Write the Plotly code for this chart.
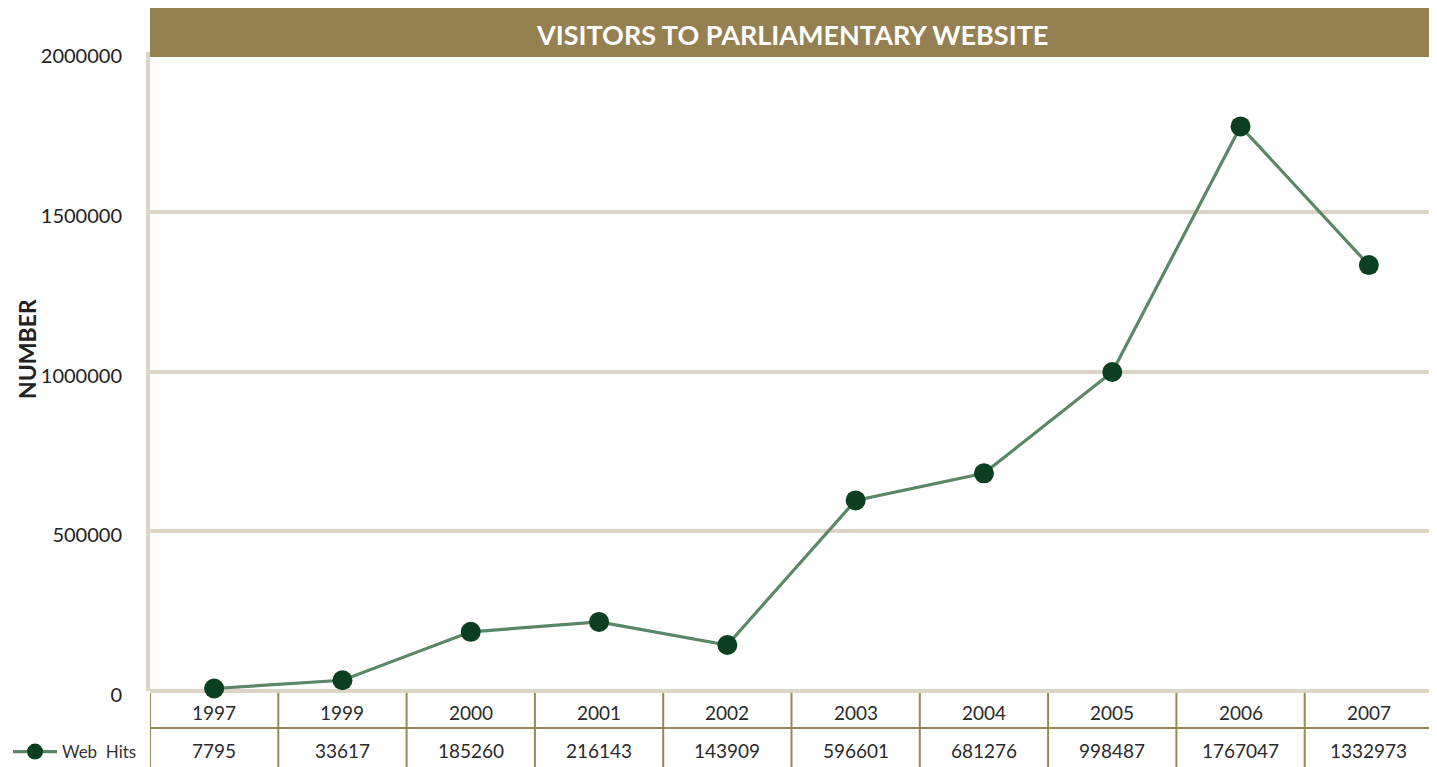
import plotly.graph_objects as go

years = ["1997", "1999", "2000", "2001", "2002", "2003", "2004", "2005", "2006", "2007"]
web_hits = [7795, 33617, 185260, 216143, 143909, 596601, 681276, 998487, 1767047, 1332973]
y_ticks = [0, 500000, 1000000, 1500000, 2000000]
title_text = "VISITORS TO PARLIAMENTARY WEBSITE"
series_name = "Web  Hits"
y_title = "NUMBER"

W, H = 1437, 767
OFF = 8  # page body margin offset
ML = 150 - OFF
MT = 52 - OFF
MB = H - (691 - OFF)
MR = W - (1433 - OFF)
PH = H - MT - MB
PW = W - ML - MR

def py(pix):
    return 1 - (pix - OFF - MT) / PH

def px(pix):
    return (pix - OFF - ML) / PW

GRID = "#ddd5c5"
GOLD = "#9a8756"
BAND = "#948050"
FONT = "Lato"

fig = go.Figure()
fig.add_trace(go.Scatter(
    x=list(range(len(years))), y=web_hits, name=series_name,
    mode="lines+markers",
    line=dict(color="#5a8866", width=3.2),
    marker=dict(color="#0a4020", size=20, symbol="circle"),
    cliponaxis=False, showlegend=True,
))

shapes = []
shapes.append(dict(type="rect", xref="paper", yref="paper", x0=0, x1=1,
                   y0=py(57), y1=py(3), fillcolor=BAND, line=dict(width=0), layer="above"))
for i in range(len(years) + 1):
    shapes.append(dict(type="line", xref="x", yref="paper", x0=i - 0.5, x1=i - 0.5,
                       y0=py(693), y1=py(770), line=dict(color=GOLD, width=2)))
shapes.append(dict(type="line", xref="x", yref="paper", x0=-0.5, x1=len(years) - 0.5,
                   y0=py(728), y1=py(728), line=dict(color=GOLD, width=2)))

annotations = [dict(text=f"<b>{title_text}</b>", xref="paper", yref="paper", x=0.5, y=py(34),
                    showarrow=False, font=dict(family=FONT, size=27, color="white"),
                    xanchor="center", yanchor="middle"),
               dict(text=f"<b>{y_title}</b>", xref="paper", yref="paper", x=px(27),
                    y=py(349), showarrow=False, textangle=-90,
                    font=dict(family=FONT, size=23, color="#222"),
                    xanchor="center", yanchor="middle")]
for i, (yr, v) in enumerate(zip(years, web_hits)):
    annotations.append(dict(text=yr, xref="x", yref="paper", x=i, y=py(712), showarrow=False,
                            font=dict(family=FONT, size=19, color="#2a2a2a"),
                            xanchor="center", yanchor="middle"))
    annotations.append(dict(text=str(v), xref="x", yref="paper", x=i, y=py(750), showarrow=False,
                            font=dict(family=FONT, size=19, color="#2a2a2a"),
                            xanchor="center", yanchor="middle"))

fig.update_layout(
    width=W, height=H,
    margin=dict(l=ML, r=MR, t=MT, b=MB, autoexpand=False),
    paper_bgcolor="white", plot_bgcolor="white",
    shapes=shapes, annotations=annotations,
    legend=dict(x=0, y=1 - (752 - OFF) / H, xref="container", yref="container",
                xanchor="left", yanchor="middle",
                font=dict(family=FONT, size=17, color="#333"), bgcolor="rgba(0,0,0,0)",
                itemwidth=44),
    xaxis=dict(range=[-0.5, len(years) - 0.5], showgrid=False, zeroline=False,
               showticklabels=False, showline=False, fixedrange=True, automargin=False),
    yaxis=dict(range=[0, 2000000], tickvals=y_ticks, ticktext=[str(t) for t in y_ticks],
               showgrid=True, gridcolor=GRID, gridwidth=4,
               zeroline=True, zerolinecolor=GRID, zerolinewidth=4,
               showline=True, linecolor=GRID, linewidth=4, mirror=True,
               tickfont=dict(family=FONT, size=20, color="#222"),
               ticklabelstandoff=20, ticklabelshift=4, ticks="", automargin=False),
)

fig.write_html("out.html")
